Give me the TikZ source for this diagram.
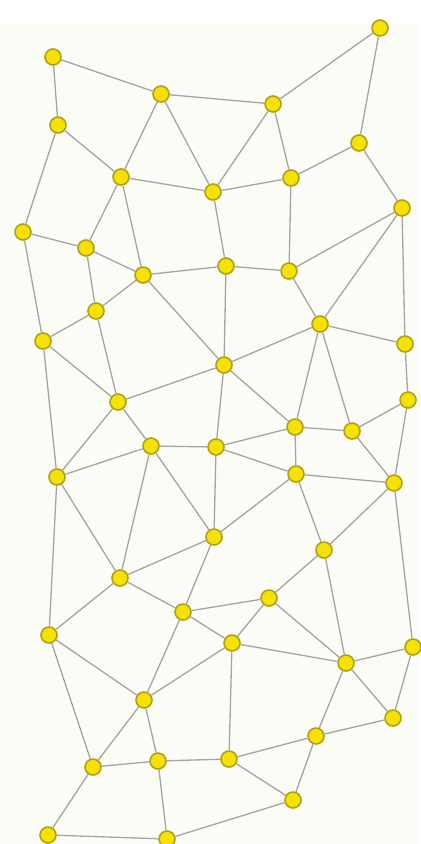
\documentclass[tikz,border=0pt]{standalone}
\usepackage{xcolor}
\usepackage{tikz}

\definecolor{vertexfill}{RGB}{246,226,0}
\definecolor{vertexline}{RGB}{176,160,20}
\definecolor{edgegray}{RGB}{165,165,165}
\definecolor{paper}{RGB}{252,252,246}

\begin{document}
\begin{tikzpicture}[
				x=0.02cm, y=-0.02cm,
				vertex/.style={circle, draw=vertexline, fill=vertexfill, line width=0.9pt, inner sep=0pt, minimum size=0.32cm},
				edge/.style={draw=edgegray, line width=0.75pt}
				]
				
				\useasboundingbox (0,0) rectangle (420,844);
				\fill[paper] (0,24) rectangle (420,844);
				
				\node[vertex] (a) at (53,57) {};
				\node[vertex] (b) at (161,94) {};
				\node[vertex] (c) at (273,104) {};
				\node[vertex] (d) at (380,28) {};
				\node[vertex] (e) at (58,125) {};
				\node[vertex] (f) at (359,143) {};
				\node[vertex] (g) at (121,177) {};
				\node[vertex] (h) at (213,192) {};
				\node[vertex] (i) at (291,178) {};
				\node[vertex] (j) at (402,208) {};
				\node[vertex] (k) at (23,232) {};
				\node[vertex] (l) at (86,248) {};
				\node[vertex] (m) at (143,275) {};
				\node[vertex] (n) at (226,266) {};
				\node[vertex] (o) at (289,271) {};
				\node[vertex] (p) at (96,311) {};
				\node[vertex] (q) at (320,324) {};
				\node[vertex] (r) at (43,341) {};
				\node[vertex] (s) at (405,344) {};
				\node[vertex] (t) at (224,365) {};
				\node[vertex] (u) at (118,402) {};
				\node[vertex] (v) at (408,400) {};
				\node[vertex] (w) at (295,427) {};
				\node[vertex] (x) at (352,431) {};
				\node[vertex] (y) at (151,446) {};
				\node[vertex] (z) at (216,447) {};
				\node[vertex] (aa) at (57,477) {};
				\node[vertex] (ab) at (296,474) {};
				\node[vertex] (ac) at (394,483) {};
				\node[vertex] (ad) at (214,537) {};
				\node[vertex] (ae) at (324,550) {};
				\node[vertex] (af) at (120,578) {};
				\node[vertex] (ag) at (269,598) {};
				\node[vertex] (ah) at (183,612) {};
				\node[vertex] (ai) at (49,635) {};
				\node[vertex] (aj) at (232,643) {};
				\node[vertex] (ak) at (346,663) {};
				\node[vertex] (al) at (413,647) {};
				\node[vertex] (am) at (144,700) {};
				\node[vertex] (an) at (393,718) {};
				\node[vertex] (ao) at (316,736) {};
				\node[vertex] (ap) at (93,767) {};
				\node[vertex] (aq) at (158,761) {};
				\node[vertex] (ar) at (229,759) {};
				\node[vertex] (as) at (293,800) {};
				\node[vertex] (at) at (48,835) {};
				\node[vertex] (au) at (167,839) {};
				
				\draw[edge] (a) -- (b);
				\draw[edge] (a) -- (e);
				\draw[edge] (b) -- (c);
				\draw[edge] (b) -- (g);
				\draw[edge] (b) -- (h);
				\draw[edge] (c) -- (d);
				\draw[edge] (c) -- (h);
				\draw[edge] (c) -- (i);
				\draw[edge] (d) -- (f);
				\draw[edge] (e) -- (g);
				\draw[edge] (e) -- (k);
				\draw[edge] (f) -- (i);
				\draw[edge] (f) -- (j);
				\draw[edge] (g) -- (h);
				\draw[edge] (g) -- (l);
				\draw[edge] (g) -- (m);
				\draw[edge] (h) -- (i);
				\draw[edge] (h) -- (n);
				\draw[edge] (i) -- (o);
				\draw[edge] (j) -- (o);
				\draw[edge] (j) -- (q);
				\draw[edge] (j) -- (s);
				
				\draw[edge] (k) -- (l);
				\draw[edge] (k) -- (r);
				\draw[edge] (l) -- (m);
				\draw[edge] (l) -- (p);
				\draw[edge] (m) -- (n);
				\draw[edge] (m) -- (p);
				\draw[edge] (m) -- (t);
				\draw[edge] (n) -- (o);
				\draw[edge] (n) -- (t);
				\draw[edge] (o) -- (q);
				\draw[edge] (p) -- (r);
				\draw[edge] (p) -- (u);
				\draw[edge] (q) -- (s);
				\draw[edge] (q) -- (t);
				\draw[edge] (q) -- (w);
				\draw[edge] (q) -- (x);
				\draw[edge] (r) -- (u);
				\draw[edge] (r) -- (aa);
				\draw[edge] (s) -- (v);
				\draw[edge] (t) -- (u);
				\draw[edge] (t) -- (w);
				\draw[edge] (t) -- (z);
				\draw[edge] (u) -- (y);
				\draw[edge] (u) -- (aa);
				\draw[edge] (v) -- (x);
				\draw[edge] (v) -- (ac);
				\draw[edge] (w) -- (x);
				\draw[edge] (w) -- (z);
				\draw[edge] (w) -- (ab);
				\draw[edge] (x) -- (ac);
				
				\draw[edge] (y) -- (z);
				\draw[edge] (y) -- (aa);
				\draw[edge] (y) -- (ad);
				\draw[edge] (y) -- (af);
				\draw[edge] (z) -- (ab);
				\draw[edge] (z) -- (ad);
				\draw[edge] (aa) -- (af);
				\draw[edge] (aa) -- (ai);
				\draw[edge] (ab) -- (ac);
				\draw[edge] (ab) -- (ae);
				\draw[edge] (ab) -- (ad);
				\draw[edge] (ac) -- (ae);
				\draw[edge] (ac) -- (al);
				\draw[edge] (ad) -- (af);
				\draw[edge] (ad) -- (ah);
				\draw[edge] (ae) -- (ag);
				\draw[edge] (ae) -- (ak);
				\draw[edge] (af) -- (ai);
				\draw[edge] (af) -- (ah);
				\draw[edge] (ag) -- (ah);
				\draw[edge] (ag) -- (aj);
				\draw[edge] (ag) -- (ak);
				\draw[edge] (ah) -- (aj);
				\draw[edge] (ah) -- (am);
				
				\draw[edge] (ai) -- (am);
				\draw[edge] (ai) -- (ap);
				\draw[edge] (aj) -- (ak);
				\draw[edge] (aj) -- (am);
				\draw[edge] (aj) -- (ar);
				\draw[edge] (ak) -- (al);
				\draw[edge] (ak) -- (an);
				\draw[edge] (ak) -- (ao);
				\draw[edge] (al) -- (an);
				\draw[edge] (am) -- (ap);
				\draw[edge] (am) -- (aq);
				\draw[edge] (an) -- (ao);
				\draw[edge] (ao) -- (ar);
				\draw[edge] (ao) -- (as);
				\draw[edge] (ap) -- (aq);
				\draw[edge] (ap) -- (at);
				\draw[edge] (aq) -- (ar);
				\draw[edge] (aq) -- (au);
				\draw[edge] (ar) -- (as);
				\draw[edge] (as) -- (au);
				\draw[edge] (at) -- (au);
				
			\end{tikzpicture}
\end{document}
